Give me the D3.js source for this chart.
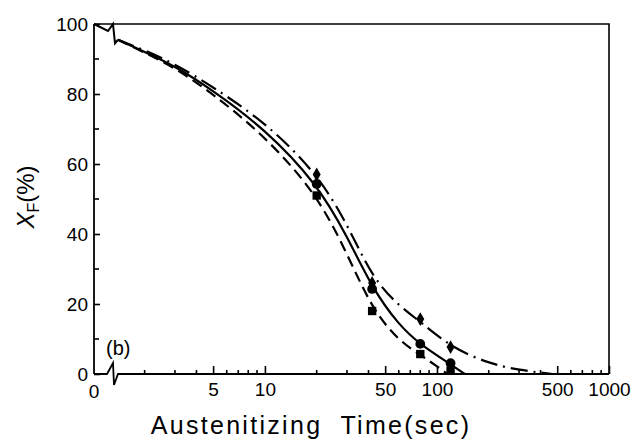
<!DOCTYPE html>
<html>
<head>
<meta charset="utf-8">
<script src="https://cdnjs.cloudflare.com/ajax/libs/d3/7.8.5/d3.min.js"></script>
<style>
    body { margin: 0; background: #fff; }
    text { font-family: 'Liberation Sans', Arial, sans-serif; fill: #000; }
</style>
</head>
<body>
<div id="chart"></div>
<script>
// values: [time (sec), X_F (%)]
const solidCurve = [[1.4, 95.5], [2, 92], [3, 88], [5, 81], [10, 70], [20, 54.5], [30, 39.5], [42, 24.5], [60, 14], [80, 8.4], [120, 2.8], [145, 0]];
const dashedCurve = [[1.4, 95.5], [2, 91.8], [3, 87.5], [5, 80], [10, 68], [20, 51.5], [30, 34.5], [42, 18.5], [60, 9.5], [80, 5.5], [100, 2.2], [115, 0]];
const dashDotCurve = [[1.4, 95.5], [2, 92.5], [3, 88.6], [5, 82], [10, 72], [20, 57.5], [30, 43], [42, 27.5], [60, 19.5], [80, 15], [120, 7.7], [200, 3], [300, 1.1], [470, 0]];

const circlePoints = [[20, 54.3], [42, 24.3], [80, 8.6], [120, 3.1]];
const squarePoints = [[20, 51], [42, 18], [80, 5.7], [120, 1]];
const diamondPoints = [[20, 57], [42, 26], [80, 15.7], [120, 7.7]];

const xMajorTicks = [5, 10, 50, 100, 500, 1000];
const xMinorTicks = [2, 3, 4, 6, 7, 8, 9, 20, 30, 40, 60, 70, 80, 90, 200, 300, 400, 600, 700, 800, 900];
const yMajorTicks = [0, 20, 40, 60, 80, 100];
const yMinorTicks = [10, 30, 50, 70, 90];

const width = 633, height = 442;
const margin = { top: 24, right: 24, bottom: 68, left: 94 };
const x0 = margin.left, x1 = width - margin.right;
const yTop = margin.top, yBot = height - margin.bottom;
const breakX = 118; // where the log part of the axis starts

const svg = d3.select('#chart').append('svg')
    .attr('width', width)
    .attr('height', height);

const x = d3.scaleLog().domain([1.4, 1000]).range([breakX, x1]);
const xZero = d3.scaleLinear().domain([0, 1]).range([x0, x0 + 1]);
const y = d3.scaleLinear().domain([0, 100]).range([yBot, yTop]);

// frame: top and right edges
svg.append('path')
    .attr('d', `M${x0},${yTop}H${x1}V${yBot}`)
    .attr('fill', 'none')
    .attr('stroke', '#000')
    .attr('stroke-width', 1.6);

// left axis
svg.append('line')
    .attr('x1', x0).attr('x2', x0)
    .attr('y1', yTop).attr('y2', yBot)
    .attr('stroke', '#000').attr('stroke-width', 1.8);

// bottom axis with a break
svg.append('path')
    .attr('d', `M${x0},${yBot}H${breakX - 11}L${breakX - 5},${yBot - 11}L${breakX - 4},${yBot + 11}L${breakX},${yBot}H${x1}`)
    .attr('fill', 'none')
    .attr('stroke', '#000')
    .attr('stroke-width', 1.8);

// y ticks, pointing inward
const yAxis = svg.append('g')
    .attr('transform', `translate(${x0},0)`)
    .call(d3.axisLeft(y).tickValues(yMajorTicks).tickSize(-6).tickPadding(6).tickFormat(d3.format('d')));
yAxis.select('.domain').remove();
yAxis.selectAll('line').attr('stroke-width', 1.6);
yAxis.selectAll('text').style('font-size', '19px').style('font-family', null);

svg.selectAll('.y-minor')
    .data(yMinorTicks)
    .enter().append('line')
    .attr('class', 'y-minor')
    .attr('x1', x0).attr('x2', x0 + 5)
    .attr('y1', d => y(d)).attr('y2', d => y(d))
    .attr('stroke', '#000').attr('stroke-width', 1.6);

// x ticks, pointing inward
const xAxis = svg.append('g')
    .attr('transform', `translate(0,${yBot})`)
    .call(d3.axisBottom(x).tickValues(xMajorTicks).tickSize(-8).tickPadding(9).tickFormat(d3.format('d')));
xAxis.select('.domain').remove();
xAxis.selectAll('line').attr('stroke-width', 1.6);
xAxis.selectAll('text').style('font-size', '19px').style('font-family', null);

svg.selectAll('.x-minor')
    .data(xMinorTicks)
    .enter().append('line')
    .attr('class', 'x-minor')
    .attr('x1', d => x(d)).attr('x2', d => x(d))
    .attr('y1', yBot).attr('y2', yBot - 4)
    .attr('stroke', '#000').attr('stroke-width', 1.6);

svg.append('text')
    .attr('x', xZero(0))
    .attr('y', yBot + 24)
    .attr('text-anchor', 'middle')
    .style('font-size', '19px')
    .text('0');

// start of the curves: 100% at t = 0, then the break zigzag
const startPath = [
    [xZero(0), y(100)],
    [breakX - 10, y(98)],
    [breakX - 5, y(100)],
    [breakX - 3, y(94.5)],
    [x(1.4), y(95.5)]
];
svg.append('path')
    .attr('d', d3.line()(startPath))
    .attr('fill', 'none')
    .attr('stroke', '#000')
    .attr('stroke-width', 2);

const line = d3.line()
    .x(d => x(d[0]))
    .y(d => y(d[1]))
    .curve(d3.curveBasis);

const series = [
    { data: solidCurve, dash: null },
    { data: dashedCurve, dash: '11,6' },
    { data: dashDotCurve, dash: '17,6,2,6' }
];

svg.selectAll('.curve')
    .data(series)
    .enter().append('path')
    .attr('class', 'curve')
    .attr('d', d => line(d.data))
    .attr('fill', 'none')
    .attr('stroke', '#000')
    .attr('stroke-width', 2.2)
    .attr('stroke-dasharray', d => d.dash);

const markers = [
    { data: circlePoints, type: d3.symbolCircle, size: 75 },
    { data: squarePoints, type: d3.symbolSquare, size: 70 },
    { data: diamondPoints, type: d3.symbolDiamond, size: 55 }
];

markers.forEach(m => {
    svg.selectAll(null)
        .data(m.data)
        .enter().append('path')
        .attr('d', d3.symbol().type(m.type).size(m.size))
        .attr('transform', d => `translate(${x(d[0])},${y(d[1])})`)
        .attr('fill', '#000');
});

// labels
svg.append('text')
    .attr('x', 106)
    .attr('y', 355)
    .style('font-size', '20px')
    .text('(b)');

svg.append('text')
    .attr('x', 311)
    .attr('y', 434)
    .attr('text-anchor', 'middle')
    .style('font-size', '25px')
    .style('letter-spacing', '2.3px')
    .style('white-space', 'pre')
    .text('Austenitizing  Time(sec)');

const yLabel = svg.append('text')
    .attr('transform', 'translate(34,197) rotate(-90)')
    .attr('text-anchor', 'middle')
    .style('font-size', '24px');
yLabel.append('tspan').style('font-style', 'italic').text('X');
yLabel.append('tspan').attr('dy', 5).style('font-size', '16px').text('F');
yLabel.append('tspan').attr('dy', -5).text('(%)');
</script>
</body>
</html>
